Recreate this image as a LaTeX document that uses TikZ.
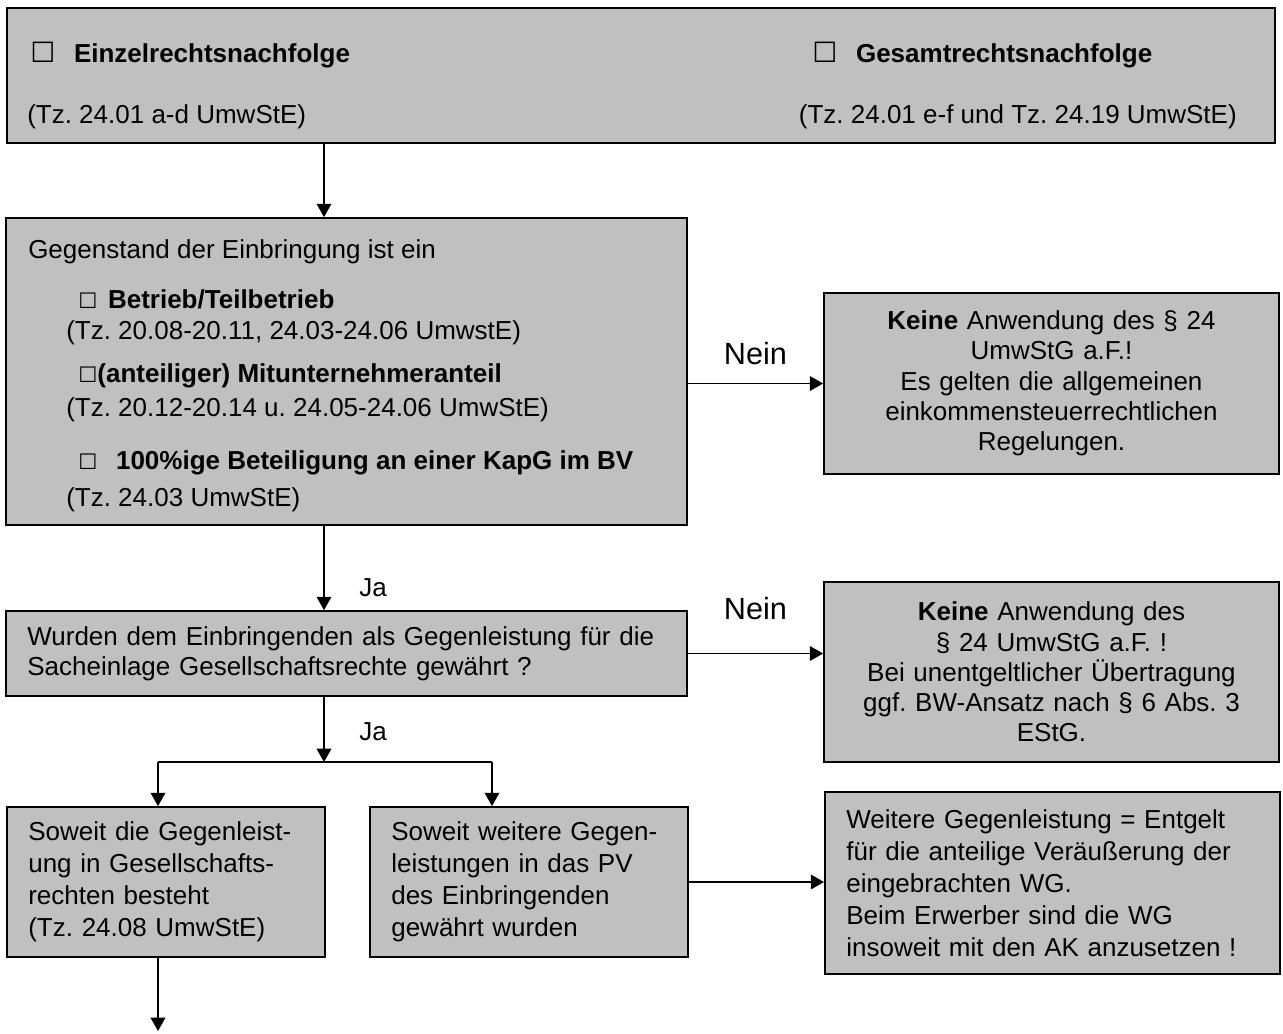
\documentclass[tikz,border=0pt]{standalone}
\usepackage{fontspec}
\setmainfont{Liberation Sans}
\newfontfamily\symfont{DejaVu Sans}
\usetikzlibrary{positioning,arrows.meta,calc}
\definecolor{boxgray}{RGB}{192,192,192}
\newcommand{\cb}[1][19.5pt]{{\fontsize{#1}{#1}\symfont ☐}}
\frenchspacing
\tikzset{
  box/.style={draw, fill=boxgray, line width=1.3pt, inner xsep=16pt, inner ysep=4pt},
  txt/.style={inner sep=0pt, anchor=west},
  arr/.style={line width=1.1pt, -{Triangle[length=10pt,width=11pt]}},
  nein/.style={inner sep=0pt, font=\fontsize{23pt}{23pt}\selectfont},
  ja/.style={inner sep=0pt}
}

\begin{document}
\begin{tikzpicture}[x=0.75pt, y=-0.75pt, font=\fontsize{19.5pt}{24pt}\selectfont]
\useasboundingbox (0,0) rectangle (1283,1033);
\coordinate (spine) at (324,0);
\coordinate (split) at (324,762);
\coordinate (splitL) at (158,762);
\coordinate (splitR) at (492,762);
\coordinate (out) at (158,1031);

% Rechtsnachfolge
\node[box, inner sep=0pt, minimum width=951pt, minimum height=101.25pt] (succ) at (641,75.5) {};
\node[txt] (single) at (30,55) {\cb[21pt]\hspace{14pt}\textbf{Einzelrechtsnachfolge}};
\node[txt] (single-ref) at (27,117) {(Tz. 24.01 a-d UmwStE)};
\node[txt] (total) at (812,55) {\cb[21pt]\hspace{14pt}\textbf{Gesamtrechtsnachfolge}};
\node[txt, anchor=east] (total-ref) at (1237,117) {(Tz. 24.01 e-f und Tz. 24.19 UmwStE)};

% Gegenstand
\node[box, inner sep=0pt, minimum width=510.75pt, minimum height=230.25pt] (obj) at (346.5,371.5) {};
\node[txt] (obj-head) at (28,252) {Gegenstand der Einbringung ist ein};
\node[txt] (obj-a) at (78,299) {\cb[16pt]\hspace{8pt}\textbf{Betrieb/Teilbetrieb}};
\node[txt] (obj-a-ref) at (66,333) {(Tz. 20.08-20.11, 24.03-24.06 UmwstE)};
\node[txt] (obj-b) at (78,376) {\cb[16pt]\textbf{(anteiliger) Mitunternehmeranteil}};
\node[txt] (obj-b-ref) at (66,410) {(Tz. 20.12-20.14 u. 24.05-24.06 UmwStE)};
\node[txt] (obj-c) at (78,463) {\cb[16pt]\hspace{14pt}\textbf{100\%ige Beteiligung an einer KapG im BV}};
\node[txt] (obj-c-ref) at (66,500) {(Tz. 24.03 UmwStE)};

\node[box, align=center, text width=309.25pt, minimum height=135.75pt,
  font=\fontsize{19.5pt}{22.7pt}\selectfont] (no1) at (1051.5,383.5)
  {\textbf{Keine} Anwendung des § 24\\UmwStG a.F.!\\Es gelten die allgemeinen\\einkommensteuerrechtlichen\\Regelungen.};

% Gegenleistung
\node[box, align=left, text width=478.75pt, minimum height=63.75pt,
  font=\fontsize{19.5pt}{22.5pt}\selectfont] (q) at (346.5,653.5)
  {Wurden dem Einbringenden als Gegenleistung für die\\Sacheinlage Gesellschaftsrechte gewährt ?};

\node[box, align=center, text width=309.25pt, minimum height=135pt,
  font=\fontsize{19.5pt}{22.7pt}\selectfont] (no2) at (1051.5,672)
  {\textbf{Keine} Anwendung des\\§ 24 UmwStG a.F. !\\Bei unentgeltlicher Übertragung\\ggf. BW-Ansatz nach § 6 Abs. 3\\EStG.};

\node[box, align=left, text width=206.5pt, minimum height=112.5pt] (share) at (166,882)
  {Soweit die Gegenleist-\\ung in Gesellschafts-\\rechten besteht\\(Tz. 24.08 UmwStE)};
\node[box, align=left, text width=206.5pt, minimum height=112.5pt] (extra) at (529,882)
  {Soweit weitere Gegen-\\leistungen in das PV\\des Einbringenden\\gewährt wurden};
\node[box, align=left, text width=309.25pt, minimum height=136.5pt] (sale) at (1052.5,883)
  {Weitere Gegenleistung = Entgelt\\für die anteilige Veräußerung der\\eingebrachten WG.\\Beim Erwerber sind die WG\\insoweit mit den AK anzusetzen !};

\draw[arr] (succ.south -| spine) -- (obj.north -| spine);
\draw[arr] (obj.east |- no1) -- node[nein, above=13.5pt] (nein1) {Nein} (no1.west);
\draw[arr] (obj.south -| spine) -- node[ja, pos=0.73, right=26pt] (ja1) {Ja} (q.north -| spine);
\draw[arr] (q.east) -- node[nein, above=25pt] (nein2) {Nein} (q.east -| no2.west);
\draw[arr] (q.south -| spine) -- node[ja, pos=0.53, right=26pt] (ja2) {Ja} (split);
\draw[line width=1.1pt] (splitL) -- (splitR);
\draw[arr] (splitL) -- (splitL |- share.north);
\draw[arr] (splitR) -- (splitR |- extra.north);
\draw[arr] (extra.east) -- (extra.east -| sale.west);
\draw[arr] (share.south -| splitL) -- (out);
\end{tikzpicture}
\end{document}
